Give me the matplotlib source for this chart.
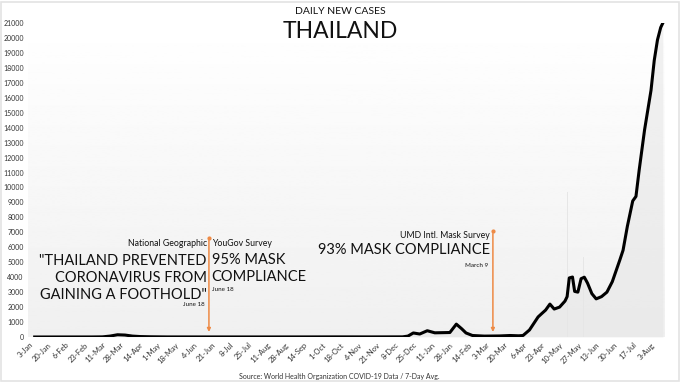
import numpy as np
import pandas as pd
import matplotlib
matplotlib.use("Agg")
import matplotlib.pyplot as plt
from matplotlib.patches import Rectangle

plt.rcParams['font.family'] = ['Lato', 'DejaVu Sans']

# 7-day average of new cases
dates = ['2020-01-08', '2020-02-01', '2020-03-01', '2020-03-11', '2020-03-18',
         '2020-03-25', '2020-04-01', '2020-04-08', '2020-04-15', '2020-04-25',
         '2020-05-10', '2020-06-15', '2020-08-01', '2020-09-15', '2020-10-15',
         '2020-11-15', '2020-12-15', '2020-12-20', '2020-12-25', '2020-12-31',
         '2021-01-07', '2021-01-14', '2021-01-21', '2021-01-28', '2021-02-03',
         '2021-02-08', '2021-02-12', '2021-02-18', '2021-03-01', '2021-03-15',
         '2021-03-25', '2021-04-02', '2021-04-06', '2021-04-12', '2021-04-20',
         '2021-04-23', '2021-04-27', '2021-05-01', '2021-05-05', '2021-05-10',
         '2021-05-15', '2021-05-17', '2021-05-19', '2021-05-22', '2021-05-24',
         '2021-05-27', '2021-05-30', '2021-06-02', '2021-06-05', '2021-06-09',
         '2021-06-13', '2021-06-18', '2021-06-23', '2021-06-28', '2021-07-05',
         '2021-07-08', '2021-07-12', '2021-07-17', '2021-07-20', '2021-07-23',
         '2021-07-28', '2021-08-03', '2021-08-06', '2021-08-09', '2021-08-12',
         '2021-08-14']
cases = [0, 2, 3, 10, 60,
         150, 130, 60, 30, 15,
         5, 4, 3, 5, 8,
         6, 10, 60, 270, 200,
         420, 280, 290, 300, 860,
         550, 270, 100, 60, 70,
         100, 80, 100, 470, 1340,
         1540, 1800, 2200, 1870, 2000,
         2400, 2700, 3950, 4010, 3050,
         3000, 3900, 4000, 3600, 2900,
         2550, 2700, 3000, 3700, 5150,
         5800, 7400, 9100, 9400, 11170,
         13850, 16500, 18500, 19870, 20700,
         21000]

# a few tall daily bars visible behind the line
spike_dates = ['2021-05-17', '2021-06-01']
spike_cases = [9700, 5350]

tick_labels = ['3-Jan', '20-Jan', '6-Feb', '23-Feb', '11-Mar', '28-Mar', '14-Apr',
               '1-May', '18-May', '4-Jun', '21-Jun', '8-Jul', '25-Jul', '11-Aug',
               '28-Aug', '14-Sep', '1-Oct', '18-Oct', '4-Nov', '21-Nov', '8-Dec',
               '25-Dec', '11-Jan', '28-Jan', '14-Feb', '3-Mar', '20-Mar', '6-Apr',
               '23-Apr', '10-May', '27-May', '13-Jun', '30-Jun', '17-Jul', '3-Aug']
y_ticks = list(range(0, 21001, 1000))

start = pd.Timestamp('2020-01-03')
def day(s):
    return (pd.Timestamp(s) - start).days

x = np.array([day(d) for d in dates])
y = np.array(cases)

fig = plt.figure(figsize=(6.8, 3.83), dpi=100)
ax = fig.add_axes([28 / 680, 1 - 337 / 383, (665 - 28) / 680, (337 - 23) / 383])

x0, x1 = -1.2, 591
ymax = 21000

# soft vertical gradient background
grad = np.linspace(0.94, 1.0, 256).reshape(-1, 1)
ax.imshow(grad, extent=[x0, x1, 0, ymax], origin='lower', aspect='auto',
          cmap='gray', vmin=0, vmax=1, zorder=0)

ax.fill_between(x, 0, y, color='#e6e6e6', lw=0, zorder=1, alpha=0.55)
ax.bar([day(d) for d in spike_dates], spike_cases, width=0.8, color='#e6e6e6', zorder=1)
ax.plot(x, y, color='black', lw=2.2, solid_joinstyle='round', zorder=3)

ax.set_xlim(x0, x1)
ax.set_ylim(0, ymax)
ax.set_yticks(y_ticks)
ax.set_yticklabels([str(v) for v in y_ticks], fontsize=5, color='#333333')
ax.set_xticks([17 * i for i in range(len(tick_labels))])
ax.set_xticklabels(tick_labels, fontsize=5.5, color='#333333', rotation=45,
                   ha='right', rotation_mode='anchor')
ax.tick_params(length=0, pad=3)
for s in ax.spines.values():
    s.set_visible(False)

# annotation arrows
orange = '#ee8a45'
jun18 = day('2020-06-18')
mar9 = day('2021-03-09')
ax.annotate('', xy=(jun18, 150), xytext=(jun18, 6650),
            arrowprops=dict(arrowstyle='-|>', color=orange, lw=1.1, mutation_scale=5), zorder=4)
ax.annotate('', xy=(mar9, 150), xytext=(mar9, 7100),
            arrowprops=dict(arrowstyle='-|>', color=orange, lw=1.1, mutation_scale=5), zorder=4)
ax.plot([jun18, mar9], [6650, 7100], 'o', color=orange, ms=2, zorder=4)

def note(xd, yv, txt, dx, ha, size, **kw):
    ax.annotate(txt, xy=(xd, yv), xytext=(dx, 0), textcoords='offset points',
                ha=ha, va='center', fontsize=size, color='#111111', zorder=5, **kw)

note(jun18, 6250, 'National Geographic', -1.5, 'right', 6.3)
note(jun18, 3950, '"THAILAND PREVENTED\nCORONAVIRUS FROM\nGAINING A FOOTHOLD"', -1.5, 'right', 10.5,
     multialignment='right', linespacing=1.28)
note(jun18, 2150, 'June 18', -3, 'right', 4.5)
note(jun18, 6250, 'YouGov Survey', 2, 'left', 6.3)
note(jun18, 4600, '95% MASK\nCOMPLIANCE', 2, 'left', 10.5, linespacing=1.28)
note(jun18, 3200, 'June 18', 2, 'left', 4.5)
note(mar9, 6800, 'UMD Intl. Mask Survey', -2, 'right', 6.3)
note(mar9, 5800, '93% MASK COMPLIANCE', -2, 'right', 10.5)
note(mar9, 4800, 'March 9', -3.5, 'right', 4.5)

fig.text(0.5, 1 - 12 / 383, 'DAILY NEW CASES', ha='center', va='center', fontsize=7.5, color='#111111')
fig.text(0.5, 1 - 32 / 383, 'THAILAND', ha='center', va='center', fontsize=16.5, color='#111111')
fig.text(339 / 680, 1 - 376 / 383, 'Source: World Health Organization COVID-19 Data / 7-Day Avg.',
         ha='center', va='center', fontsize=5, color='#333333')

fig.patches.append(Rectangle((0.002, 0.004), 0.996, 0.992, transform=fig.transFigure,
                             fill=False, edgecolor='#e3e3e3', lw=1.2))

fig.savefig('out.png', dpi=100)
